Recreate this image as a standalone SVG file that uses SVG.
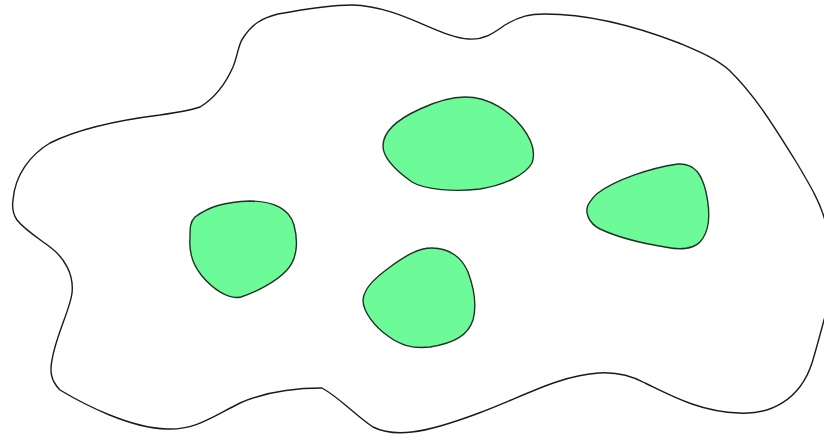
<svg xmlns="http://www.w3.org/2000/svg" width="824" height="439" viewBox="0 0 824 439">
<style>
.outer{fill:#ffffff;stroke:#1a1a1a;stroke-width:1.4;stroke-linejoin:round}
.cell{fill:#6cfb98;stroke:#1f3324;stroke-width:1.4;stroke-linejoin:round}
</style>
<rect width="824" height="439" fill="#ffffff"/>
<g id="outer-blob">
<path class="outer" d="M243,38 C252,24 262,18 278,14 C300,10 330,5 352,5 C400,6 440,38 469,39 C485,40 495,32 505,25 C520,16 530,14 545,14 C590,14 640,28 679,43 C700,52 715,58 729,70 C755,95 775,128 795,160 C810,185 822,205 826,225 C832,260 830,300 824,320 C820,335 816,350 812,363 C800,400 770,415 739,413 C700,412 670,395 645,383 C630,375 615,372 599,373 C560,375 520,398 479,413 C455,422 430,430 412,432 C395,434 383,432 373,427 C355,415 340,398 322,388 C290,388 265,392 240,403 C210,418 195,430 167,429 C130,428 85,405 60,390 C50,380 50,370 52,360 C56,335 70,310 72,293 C74,275 65,258 50,247 C38,238 25,230 17,220 C12,213 12,207 13,200 C15,175 30,155 50,143 C80,128 120,120 160,115 C180,112 192,110 200,107 C215,98 225,85 233,67 C238,55 238,45 243,38 Z"/>
</g>
<g id="blob-top">
<path class="cell" d="M465,97 C490,97 510,112 522,127 C532,140 536,152 532,163 C525,175 505,185 480,189 C455,192 425,190 412,182 C395,170 383,157 383,146 C383,132 398,119 420,109 C435,102 452,97 465,97 Z"/>
</g>
<g id="blob-left">
<path class="cell" d="M195,217 C210,206 225,202 250,201 C275,201 290,210 294,225 C298,240 298,258 287,270 C276,282 256,292 241,297 C228,300 212,288 202,276 C192,264 189,250 190,238 C190,228 190,222 195,217 Z"/>
</g>
<g id="blob-bottom">
<path class="cell" d="M432,248 C450,248 462,258 468,272 C474,288 477,305 473,320 C468,335 455,343 430,347 C412,349 400,345 388,336 C375,327 363,312 363,300 C364,288 375,278 390,267 C405,256 418,248 432,248 Z"/>
</g>
<g id="blob-right">
<path class="cell" d="M598,193 C615,180 650,168 678,164 C695,163 702,175 706,192 C710,210 711,230 700,242 C692,250 680,250 665,247 C640,243 615,236 600,229 C588,223 585,212 588,205 C591,200 594,196 598,193 Z"/>
</g>
</svg>
